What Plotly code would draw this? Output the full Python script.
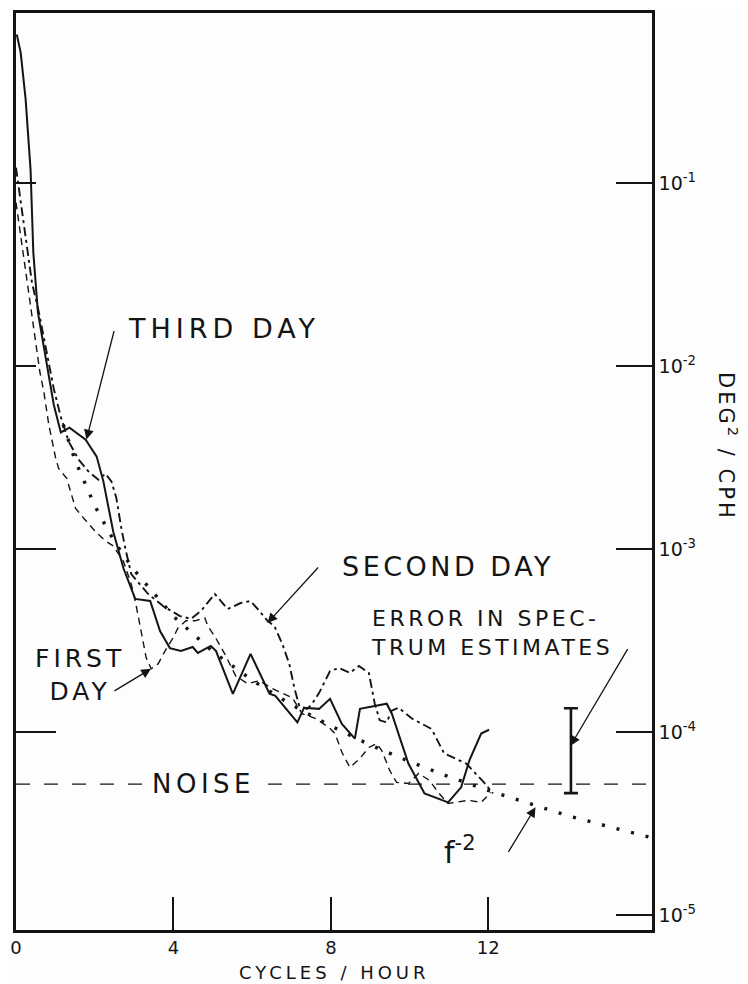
import numpy as np
import plotly.graph_objects as go

# ---------------- data ----------------
# Third day (solid)
third_f = [0.02, 0.12, 0.245, 0.30, 0.37, 0.44, 0.556, 0.96, 1.14, 1.36, 1.77, 2.05, 2.22, 2.47, 2.73,
           3.03, 3.41, 3.66, 3.91, 4.19, 4.49, 4.62, 4.95, 5.08, 5.51, 5.96, 6.44, 6.59, 7.15, 7.32,
           7.70, 7.98, 8.28, 8.61, 8.74, 9.42, 9.55, 9.97, 10.38, 10.98, 11.31, 11.52, 11.82, 12.02]
third_p = [0.652, 0.518, 0.288, 0.183, 0.119, 0.042, 0.0198, 6.17e-3, 4.35e-3, 4.62e-3, 3.97e-3,
           3.21e-3, 2.35e-3, 1.25e-3, 7.87e-4, 5.35e-4, 5.21e-4, 3.57e-4, 2.88e-4, 2.78e-4, 2.92e-4,
           2.71e-4, 2.96e-4, 2.78e-4, 1.62e-4, 2.68e-4, 1.62e-4, 1.58e-4, 1.13e-4, 1.36e-4, 1.34e-4,
           1.52e-4, 1.11e-4, 9.22e-5, 1.34e-4, 1.43e-4, 1.26e-4, 6.73e-5, 4.62e-5, 4.13e-5, 4.99e-5,
           7.00e-5, 9.82e-5, 1.03e-4]

# Second day (dash-dot)
second_f = [0, 0.126, 0.253, 0.404, 0.581, 0.707, 0.833, 0.96, 1.136, 1.338, 1.591, 1.843, 2.096,
            2.273, 2.424, 2.551, 2.677, 2.778, 2.929, 3.157, 3.359, 3.737, 4.167, 4.444, 4.697,
            5.051, 5.379, 5.707, 5.96, 6.187, 6.389, 6.566, 6.768, 6.944, 7.071, 7.197, 7.399,
            7.525, 7.702, 7.98, 8.207, 8.485, 8.712, 8.965, 9.116, 9.242, 9.419, 9.545, 9.722,
            10.05, 10.56, 10.88, 11.44, 11.89, 12.12]
second_p = [0.122, 0.0787, 0.0476, 0.0288, 0.0198, 0.0145, 0.0106, 7.54e-3, 5.31e-3, 3.88e-3,
            3.09e-3, 2.66e-3, 2.40e-3, 2.59e-3, 2.35e-3, 1.90e-3, 1.30e-3, 1.01e-3, 7.31e-4,
            6.44e-4, 5.69e-4, 4.89e-4, 4.31e-4, 4.16e-4, 4.59e-4, 5.69e-4, 4.71e-4, 5.08e-4,
            5.21e-4, 4.59e-4, 4.06e-4, 3.80e-4, 3.03e-4, 2.36e-4, 1.75e-4, 1.39e-4, 1.34e-4,
            1.43e-4, 1.64e-4, 2.16e-4, 2.24e-4, 2.11e-4, 2.30e-4, 2.11e-4, 1.43e-4, 1.16e-4,
            1.13e-4, 1.31e-4, 1.36e-4, 1.19e-4, 1.04e-4, 7.64e-5, 6.73e-5, 5.31e-5, 4.62e-5]

# First day (dashed)
first_f = [0, 0.126, 0.278, 0.455, 0.606, 0.707, 0.833, 1.01, 1.086, 1.288, 1.515, 1.717, 2.02,
           2.273, 2.475, 2.727, 2.929, 3.056, 3.182, 3.308, 3.434, 3.611, 3.788, 3.99, 4.116,
           4.318, 4.545, 4.798, 4.874, 5.076, 5.303, 5.429, 5.581, 5.884, 6.187, 6.515, 7.02,
           7.273, 7.601, 7.955, 8.106, 8.283, 8.485, 8.737, 8.965, 9.167, 9.293, 9.495, 9.672,
           9.975, 10.23, 10.51, 10.73, 10.98, 11.49, 11.82, 12.07]
first_p = [0.0787, 0.0508, 0.0288, 0.0154, 9.33e-3, 7.26e-3, 4.80e-3, 3.13e-3, 2.76e-3, 2.44e-3,
           1.67e-3, 1.48e-3, 1.25e-3, 1.11e-3, 1.04e-3, 8.61e-4, 6.44e-4, 4.89e-4, 3.44e-4,
           2.55e-4, 2.22e-4, 2.36e-4, 2.78e-4, 3.27e-4, 3.71e-4, 4.06e-4, 4.06e-4, 4.21e-4,
           3.80e-4, 3.27e-4, 2.68e-4, 2.36e-4, 2.03e-4, 1.84e-4, 1.91e-4, 1.73e-4, 1.54e-4,
           1.26e-4, 1.19e-4, 1.06e-4, 9.82e-5, 7.73e-5, 6.41e-5, 7.18e-5, 8.24e-5, 8.65e-5,
           7.93e-5, 6.17e-5, 5.31e-5, 5.24e-5, 5.94e-5, 5.44e-5, 4.68e-5, 4.07e-5, 4.24e-5,
           4.13e-5, 4.68e-5]

# f^-2 reference line (dotted)
fm2_f = [1.2, 1.5, 2, 2.5, 3, 4, 5, 6, 7, 8, 9, 10, 11, 12, 13, 14, 15, 16.16]
fm2_p = [4.8e-3, 3.07e-3, 1.73e-3, 1.10e-3, 7.7e-4, 4.3e-4, 2.76e-4, 1.92e-4, 1.41e-4, 1.08e-4,
         8.5e-5, 6.9e-5, 5.7e-5, 4.8e-5, 4.1e-5, 3.5e-5, 3.07e-5, 2.64e-5]

# Noise level
noise_f = [0, 16.16]
noise_p = [5.2e-5, 5.2e-5]

# Error bar (error in spectrum estimates)
err_f = [14.1]
err_mid = [8.0e-5]
err_hi = [1.35e-4]
err_lo = [4.64e-5]

# Axis ticks
x_ticks = [0, 4, 8, 12]
x_ticktext = ["0", "4", "8", "12"]
y_ticks = [1e-1, 1e-2, 1e-3, 1e-4, 1e-5]
y_ticktext = ["10<sup>-1</sup>", "10<sup>-2</sup>", "10<sup>-3</sup>", "10<sup>-4</sup>", "10<sup>-5</sup>"]

# Arrow targets: (f, value, tail dx px, tail dy px)
arrow_third = (1.79, 3.98e-3, 28, -110)
arrow_second = (6.39, 3.95e-4, 52, -57)
arrow_first = (3.43, 2.22e-4, -38, 23)
arrow_error = (14.09, 8.43e-5, 58, -98)
arrow_fm2 = (13.2, 3.88e-5, -28, 46)

# ---------------- figure ----------------
INK = "#141414"
FONT = "DejaVu Sans"

fig = go.Figure()

fig.add_trace(go.Scatter(x=noise_f, y=noise_p, mode="lines", yaxis="y2",
                         line=dict(color=INK, width=1.3, dash="14px,14px"), showlegend=False))
fig.add_trace(go.Scatter(x=fm2_f, y=fm2_p, mode="lines",
                         line=dict(color=INK, width=3.4, dash="3px,12px"), showlegend=False))
fig.add_trace(go.Scatter(x=first_f, y=first_p, mode="lines",
                         line=dict(color=INK, width=1.4, dash="7px,5px"), showlegend=False))
fig.add_trace(go.Scatter(x=second_f, y=second_p, mode="lines",
                         line=dict(color=INK, width=1.9, dash="9px,4px,3px,4px"), showlegend=False))
fig.add_trace(go.Scatter(x=third_f, y=third_p, mode="lines",
                         line=dict(color=INK, width=2.0), showlegend=False))
fig.add_trace(go.Scatter(
    x=err_f, y=err_mid, mode="markers", marker=dict(size=1, color=INK), showlegend=False,
    error_y=dict(type="data", symmetric=False,
                 array=[h - m for h, m in zip(err_hi, err_mid)],
                 arrayminus=[m - l for l, m in zip(err_lo, err_mid)],
                 color=INK, thickness=2.6, width=7)))


def spaced(t, ls):
    return f'<span style="letter-spacing:{ls}px">{t}</span>'


# screen pixel -> paper coords (plot area spans x 12..652, y 10..930 on screen)
def px_to_paper(px, py):
    return (px - 12) / 640.0, (930 - py) / 920.0


annotations = []


def label(text, px, py, size, xanchor="left", align="left", bg=None, angle=0):
    x, y = px_to_paper(px, py)
    d = dict(text=text, x=x, y=y, xref="paper", yref="paper", showarrow=False,
             xanchor=xanchor, yanchor="middle", align=align, textangle=angle,
             font=dict(family=FONT, size=size, color=INK))
    if bg:
        d["bgcolor"] = bg
        d["borderpad"] = 2
    annotations.append(d)


label(spaced("THIRD DAY", 5), 123, 327, 27)
label(spaced("SECOND DAY", 3.5), 338, 565, 27)
label(spaced("ERROR IN SPEC-", 3.5) + "<br>" + spaced("TRUM ESTIMATES", 3.5), 367, 632, 22)
label(spaced("FIRST", 4) + "<br>" + spaced("DAY", 4), 76, 674, 25, xanchor="center", align="center")
label(spaced("NOISE", 4.5), 146, 784, 26, bg="#fdfdfd")
label("f<sup>-2</sup>", 441, 850, 30)
label(spaced("CYCLES / HOUR", 4), 332, 973, 18, xanchor="center", align="center")
label(spaced("DEG<sup>2</sup> / CPH", 3), 729, 445, 21, xanchor="center", align="center", angle=90)

for (af, ap, dx, dy) in [arrow_third, arrow_second, arrow_first, arrow_error, arrow_fm2]:
    annotations.append(dict(x=af, y=float(np.log10(ap)), xref="x", yref="y", text="",
                            showarrow=True, arrowhead=2, arrowsize=1.5, arrowwidth=1.3,
                            arrowcolor=INK, ax=dx, ay=dy, standoff=0))

yrange = [-5.082, -0.068]

# the page body adds an 8px offset, so the figure is sized to fit the 748x984 window
fig.update_layout(
    width=740, height=976,
    margin=dict(l=4, r=96, t=2, b=54),
    paper_bgcolor="#fdfdfd", plot_bgcolor="#fdfdfd",
    font=dict(family=FONT, color=INK),
    showlegend=False,
    annotations=annotations,
    xaxis=dict(range=[0, 16.16], showgrid=False, zeroline=False, showline=True, linecolor=INK,
               linewidth=2.6, mirror=True, ticks="inside", ticklen=33, tickwidth=1.5, tickcolor=INK,
               tickmode="array", tickvals=x_ticks, ticktext=x_ticktext,
               ticklabeloverflow="allow",
               tickfont=dict(family=FONT, size=18, color=INK)),
    yaxis=dict(type="log", range=yrange, side="right", showgrid=False, zeroline=False,
               showline=True, linecolor=INK, linewidth=2.6, mirror=True, ticks="inside",
               ticklen=36, tickwidth=1.5, tickcolor=INK, tickmode="array", tickvals=y_ticks,
               ticktext=y_ticktext, ticklabeloverflow="allow",
               tickfont=dict(family=FONT, size=19, color=INK)),
    yaxis2=dict(type="log", range=yrange, overlaying="y", side="left", showgrid=False,
                zeroline=False, showline=False, ticks="inside", ticklen=40, tickwidth=1.5,
                tickcolor=INK, tickmode="array", tickvals=[1e-3, 1e-4], showticklabels=False,
                minor=dict(ticks="inside", ticklen=20, tickwidth=1.5, tickcolor=INK,
                           tickmode="array", tickvals=[1e-1, 1e-2])),
)

fig.write_html("out.html")
